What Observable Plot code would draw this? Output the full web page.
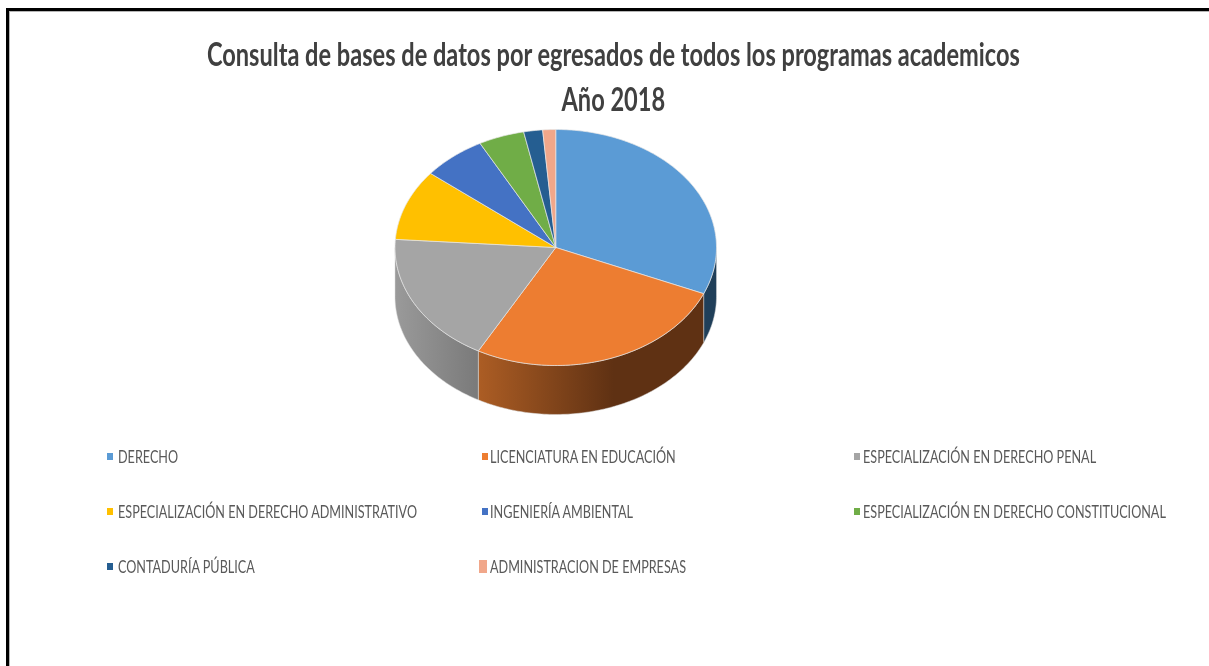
<!DOCTYPE html>
<html lang="es">
<head>
<meta charset="utf-8">
<title>Consulta de bases de datos</title>
<script src="https://cdn.jsdelivr.net/npm/d3@7"></script>
<script src="https://cdn.jsdelivr.net/npm/@observablehq/plot@0.6"></script>
<style>
  html, body { margin: 0; padding: 0; background: #fff; overflow: hidden; width: 1209px; height: 666px; }
  #frame { position: absolute; left: 6px; top: 8px; width: 1300px; height: 800px; border: 3px solid #000; box-sizing: border-box; box-shadow: inset 1px 1px 0 #b5b5b5; }
  #title { position: absolute; left: 9px; width: 1209px; top: 31px; text-align: center; font: bold 32px/45px Lato, sans-serif; color: #404040; filter: blur(0.4px); }
  #title span { display: inline-block; white-space: nowrap; transform-origin: center; }
  #chart { position: absolute; left: 0; top: 122px; filter: blur(0.4px); }
  #legend { position: absolute; left: 0; top: 0; font: 17px/20px Lato, sans-serif; color: #595959; filter: blur(0.3px); }
  .item { position: absolute; white-space: nowrap; transform-origin: left center; }
  .swatch { position: absolute; width: 6px; height: 7px; }
</style>
</head>
<body>
<div id="frame"></div>
<div id="title"><span id="t1">Consulta de bases de datos por egresados de todos los programas academicos</span><br><span id="t2">Año 2018</span></div>
<div id="chart"></div>
<div id="legend"></div>
<script>
const categories = ["DERECHO","LICENCIATURA EN EDUCACIÓN","ESPECIALIZACIÓN EN DERECHO PENAL","ESPECIALIZACIÓN EN DERECHO ADMINISTRATIVO","INGENIERÍA AMBIENTAL","ESPECIALIZACIÓN EN DERECHO CONSTITUCIONAL","CONTADURÍA PÚBLICA","ADMINISTRACION DE EMPRESAS"];
const shares = [31.4, 26.6, 18.1, 9.7, 6.4, 4.6, 1.9, 1.3];
const palette = ["#5b9bd5","#ed7d31","#a5a5a5","#ffc000","#4472c4","#70ad47","#255e91","#f1a78a"];
const wallFills = ["#203f59","url(#wallOrange)","url(#wallGray)"];

const depth = 0.415;
const total = d3.sum(shares);
const cum = d3.cumsum(shares);
const slices = categories.map((name, i) => ({
  name,
  a0: (i ? cum[i - 1] : 0) / total * 2 * Math.PI,
  a1: cum[i] / total * 2 * Math.PI
}));
const rim = (a, drop = 0) => ({x: Math.sin(a), y: Math.cos(a) - drop});
const arc = (a0, a1, drop) => {
  const n = Math.max(2, Math.ceil((a1 - a0) * 60));
  return d3.range(n + 1).map(k => rim(a0 + (a1 - a0) * k / n, drop));
};
const tops = slices.flatMap(s => {
  const pts = [{x: 0, y: 0}, ...arc(s.a0, s.a1, 0), {x: 0, y: 0}];
  return pts.map(p => ({...p, name: s.name}));
});
const wall = (s) => {
  const a0 = Math.max(s.a0, Math.PI / 2), a1 = Math.min(s.a1, 3 * Math.PI / 2);
  return [...arc(a0, a1, 0), ...arc(a0, a1, depth).reverse(), rim(a0, 0)];
};
const walls = slices.filter(s => s.a1 > Math.PI / 2 && s.a0 < 3 * Math.PI / 2);

const defs = () => {
  const d = d3.create("svg:defs");
  const grad = (id, stops) => {
    const g = d.append("linearGradient").attr("id", id);
    stops.forEach(([o, c]) => g.append("stop").attr("offset", o).attr("stop-color", c));
  };
  grad("wallOrange", [[0, "#ac5d24"], [0.6, "#5f3113"], [1, "#5f3113"]]);
  grad("wallGray", [[0, "#9a9a9a"], [1, "#7a7a7a"]]);
  return d.node();
};

const plot = Plot.plot({
  width: 1209, height: 300,
  margin: 0,
  x: {axis: null, domain: [-1, 1], range: [394.5, 716]},
  y: {axis: null, domain: [1, -1], range: [7, 243]},
  color: {domain: categories, range: palette},
  marks: [
    defs,
    ...walls.map((s, i) => Plot.line(wall(s), {x: "x", y: "y", fill: wallFills[i], stroke: "#d9d9d9", strokeWidth: 0.5})),
    Plot.line(tops, {x: "x", y: "y", z: "name", fill: "name", stroke: "#e6e6e6", strokeWidth: 0.7})
  ]
});
document.getElementById("chart").append(plot);

const cols = [118, 490, 863];
const swatchCols = [107, 482, 854];
const rows = [457, 512, 567];
const legend = document.getElementById("legend");
const items = categories.map((name, i) => {
  const c = i % 3, r = Math.floor(i / 3);
  const sw = document.createElement("div");
  sw.className = "swatch";
  sw.style.cssText = `left:${swatchCols[c]}px;top:${rows[r] - 4}px;background:${palette[i]}`;
  if (i === 7) sw.style.cssText = `left:479px;top:560px;width:8px;height:13px;background:${palette[i]}`;
  const t = document.createElement("div");
  t.className = "item";
  t.textContent = name;
  t.style.cssText = `left:${cols[c]}px;top:${rows[r] - 10}px`;
  legend.append(sw, t);
  return t;
});
function fit() {
  const k = 299 / items[3].getBoundingClientRect().width;
  items.forEach(t => { t.style.transform = `scaleX(${k})`; });
  const t1 = document.getElementById("t1"), t2 = document.getElementById("t2");
  const kt = 813 / t1.getBoundingClientRect().width;
  t1.style.transform = t2.style.transform = `scaleX(${kt})`;
}
fit();
if (document.fonts && document.fonts.ready) document.fonts.ready.then(() => {
  items.forEach(t => { t.style.transform = ""; });
  document.getElementById("t1").style.transform = "";
  document.getElementById("t2").style.transform = "";
  fit();
});
</script>
</body>
</html>
